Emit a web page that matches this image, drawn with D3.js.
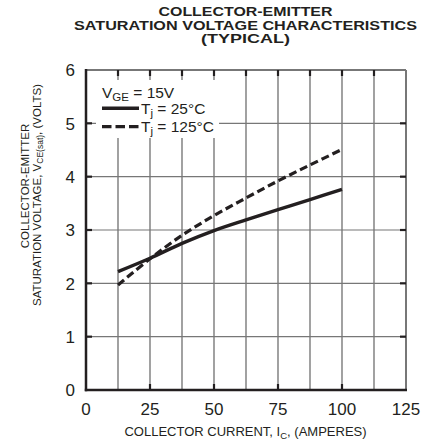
<!DOCTYPE html>
<html><head><meta charset="utf-8">
<script src="https://cdn.jsdelivr.net/npm/d3@7"></script>
<style>body{margin:0;background:#fff}svg{display:block}text{font-family:"Liberation Sans",Arial,sans-serif;fill:#231f20}</style>
</head><body>
<script>
const ic = [12.5, 25, 37.5, 50, 62.5, 75, 87.5, 100];
const vce25 = [2.22, 2.47, 2.75, 2.99, 3.19, 3.38, 3.57, 3.76];
const vce125 = [1.97, 2.46, 2.9, 3.27, 3.6, 3.92, 4.22, 4.51];
const xTicks = [0, 25, 50, 75, 100, 125];
const yTicks = [0, 1, 2, 3, 4, 5, 6];
const xGrid = [12.5, 25, 37.5, 50, 62.5, 75, 87.5, 100, 112.5];
const titleLines = ["COLLECTOR-EMITTER", "SATURATION VOLTAGE CHARACTERISTICS", "(TYPICAL)"];
const legendLabels = ["T", "j", " = 25°C", " = 125°C"];

const W = 436, H = 446;
const svg = d3.select("body").append("svg").attr("width", W).attr("height", H);
const x = d3.scaleLinear().domain([0, 125]).range([86, 406]);
const y = d3.scaleLinear().domain([0, 6]).range([390, 70]);
const ink = "#231f20";

// grid
svg.append("g").selectAll("line").data(xGrid).join("line")
  .attr("x1", d => x(d)).attr("x2", d => x(d)).attr("y1", y(0)).attr("y2", y(6))
  .attr("stroke", "#555").attr("stroke-width", 1.1);
svg.append("g").selectAll("line").data(yTicks.slice(1, 6)).join("line")
  .attr("x1", x(0)).attr("x2", x(125)).attr("y1", d => y(d)).attr("y2", d => y(d))
  .attr("stroke", "#777").attr("stroke-width", 1.1);

// top & right border (gray)
svg.append("line").attr("x1", x(0)).attr("x2", x(125)).attr("y1", y(6)).attr("y2", y(6)).attr("stroke", "#777").attr("stroke-width", 2);
svg.append("line").attr("x1", x(125)).attr("x2", x(125)).attr("y1", y(6)).attr("y2", y(0)).attr("stroke", "#777").attr("stroke-width", 2);

// inner ticks
const tl = 6;
svg.append("g").selectAll("line").data(xGrid).join("line")
  .attr("x1", d => x(d)).attr("x2", d => x(d)).attr("y1", y(6)).attr("y2", y(6) + tl)
  .attr("stroke", ink).attr("stroke-width", 2.2);
svg.append("g").selectAll("line").data(xTicks.slice(1, 5)).join("line")
  .attr("x1", d => x(d)).attr("x2", d => x(d)).attr("y1", y(0)).attr("y2", y(0) - tl)
  .attr("stroke", ink).attr("stroke-width", 2.2);
svg.append("g").selectAll("line").data(yTicks.slice(1, 6)).join("line")
  .attr("x1", x(0)).attr("x2", x(0) + tl).attr("y1", d => y(d)).attr("y2", d => y(d))
  .attr("stroke", ink).attr("stroke-width", 2.2);
svg.append("g").selectAll("line").data(yTicks.slice(1, 6)).join("line")
  .attr("x1", x(125)).attr("x2", x(125) - tl).attr("y1", d => y(d)).attr("y2", d => y(d))
  .attr("stroke", ink).attr("stroke-width", 2.2);

// left & bottom axes
svg.append("line").attr("x1", x(0)).attr("x2", x(0)).attr("y1", y(6) - 1).attr("y2", y(0) + 1.2).attr("stroke", ink).attr("stroke-width", 2.5);
svg.append("line").attr("x1", x(0) - 1.2).attr("x2", x(125) + 1).attr("y1", y(0)).attr("y2", y(0)).attr("stroke", ink).attr("stroke-width", 2.5);

// curves
const line = d3.line().x(d => x(d[0])).y(d => y(d[1])).curve(d3.curveCatmullRom.alpha(0.5));
svg.append("path").datum(ic.map((d, i) => [d, vce125[i]])).attr("d", line)
  .attr("fill", "none").attr("stroke", ink).attr("stroke-width", 3.2).attr("stroke-dasharray", "8,4");
svg.append("path").datum(ic.map((d, i) => [d, vce25[i]])).attr("d", line)
  .attr("fill", "none").attr("stroke", ink).attr("stroke-width", 3.4);

// legend
const lg = svg.append("g");
lg.append("rect").attr("x", 96).attr("y", 80).attr("width", 123).attr("height", 58).attr("fill", "#fff");
const t0 = lg.append("text").attr("x", 102).attr("y", 97.5).attr("font-size", 15.5);
t0.append("tspan").text("V");
t0.append("tspan").attr("font-size", 11.5).attr("dy", 3.5).text("GE");
t0.append("tspan").attr("dy", -3.5).text(" = 15V");
lg.append("line").attr("x1", 102).attr("x2", 139).attr("y1", 108.3).attr("y2", 108.3).attr("stroke", ink).attr("stroke-width", 3.4);
lg.append("line").attr("x1", 102).attr("x2", 139).attr("y1", 126.7).attr("y2", 126.7).attr("stroke", ink).attr("stroke-width", 3.2).attr("stroke-dasharray", "9.5,4");
[[113.5, legendLabels[2]], [131.8, legendLabels[3]]].forEach(([by, s]) => {
  const t = lg.append("text").attr("x", 141).attr("y", by).attr("font-size", 15.5);
  t.append("tspan").text(legendLabels[0]);
  t.append("tspan").attr("font-size", 11.5).attr("dy", 3.5).text(legendLabels[1]);
  t.append("tspan").attr("dy", -3.5).text(s);
});

// tick labels
svg.append("g").selectAll("text").data(xTicks).join("text")
  .attr("x", d => x(d)).attr("y", 415).attr("text-anchor", "middle").attr("font-size", 17).text(d => d);
svg.append("g").selectAll("text").data(yTicks).join("text")
  .attr("x", 75).attr("y", d => y(d) + 6.3).attr("text-anchor", "end").attr("font-size", 17).text(d => d);

// title
const tW = [174, 343, 89];
[16, 29.5, 43].forEach((by, i) => {
  svg.append("text").attr("x", 245.5).attr("y", by).attr("text-anchor", "middle")
    .attr("font-size", 12.5).attr("font-weight", "bold")
    .attr("textLength", tW[i]).attr("lengthAdjust", "spacingAndGlyphs").text(titleLines[i]);
});

// x axis title
const xt = svg.append("text").attr("x", 245.5).attr("y", 436).attr("text-anchor", "middle").attr("font-size", 13);
xt.append("tspan").text("COLLECTOR CURRENT, I");
xt.append("tspan").attr("font-size", 9.5).attr("dy", 3).text("C");
xt.append("tspan").attr("dy", -3).text(", (AMPERES)");

// y axis title
svg.append("text").attr("transform", "translate(28.5,186) rotate(-90)").attr("text-anchor", "middle")
  .attr("font-size", 11.5).text("COLLECTOR-EMITTER");
const yt = svg.append("text").attr("transform", "translate(40.5,195) rotate(-90)").attr("text-anchor", "middle").attr("font-size", 11.5);
yt.append("tspan").text("SATURATION VOLTAGE, V");
yt.append("tspan").attr("font-size", 8.5).attr("dy", 2.5).text("CE(sat)");
yt.append("tspan").attr("dy", -2.5).text(", (VOLTS)");
</script>
</body></html>
